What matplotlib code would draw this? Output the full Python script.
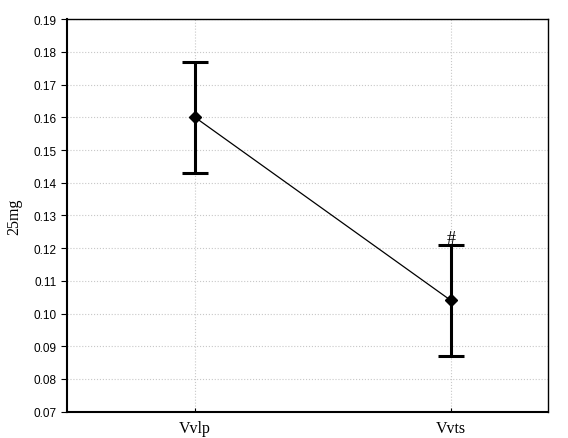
import numpy as np
import matplotlib
matplotlib.use("Agg")
import matplotlib.pyplot as plt

categories = ["Vvlp", "Vvts"]
means = [0.160, 0.104]
lower = [0.143, 0.087]
upper = [0.177, 0.121]
marks = ["", "#"]

x = np.arange(len(categories))
means_a = np.array(means)
yerr = [means_a - np.array(lower), np.array(upper) - means_a]

fig = plt.figure(figsize=(5.68, 4.39), dpi=100)
ax = fig.add_axes([0.118, 0.06, 0.847, 0.894])

ax.grid(True, color="#c8c8c8", linestyle=":", linewidth=0.8)
ax.set_axisbelow(True)
ax.plot(x, means, color="black", linewidth=0.9, zorder=3)
ax.errorbar(x, means, yerr=yerr, fmt="none", ecolor="black",
            elinewidth=2.2, capsize=9.5, capthick=2.2, zorder=4)
ax.plot(x, means, "D", color="black", markersize=6.5, zorder=5)
for xi, up, m in zip(x, upper, marks):
    if m:
        ax.text(xi, up - 0.0008, m, ha="center", va="bottom", fontsize=13,
                family="Liberation Serif")

ax.set_xlim(-0.5, 1.38)
ax.set_ylim(0.07, 0.19)
ax.set_yticks(np.arange(0.07, 0.1901, 0.01))
ax.set_yticklabels(["%.2f" % v for v in np.arange(0.07, 0.1901, 0.01)],
                   fontsize=8.5, family="Liberation Sans")
ax.set_xticks(x)
ax.set_xticklabels(categories, fontsize=11.5, family="Liberation Serif")
ax.tick_params(axis="y", direction="out", length=4, width=0.8)
ax.tick_params(axis="x", direction="in", length=3, width=0.8, pad=6)
ax.set_ylabel("25mg", fontsize=11.5, family="Liberation Serif", labelpad=8)
for s in ax.spines.values():
    s.set_linewidth(1.0)
ax.spines["bottom"].set_linewidth(1.5)
ax.spines["left"].set_linewidth(1.5)

fig.savefig("out.png", dpi=100)
